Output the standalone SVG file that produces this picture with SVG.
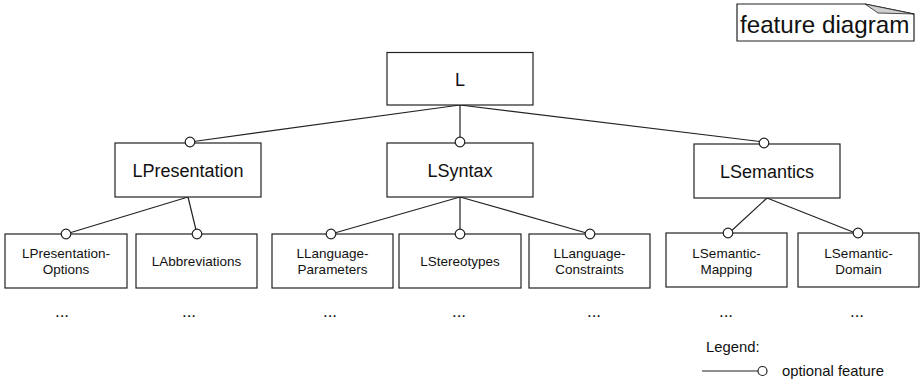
<svg xmlns="http://www.w3.org/2000/svg" width="921" height="383" viewBox="0 0 921 383">
<style>
.box{fill:#fff;stroke:#222;stroke-width:1.2}
.ln{stroke:#222;stroke-width:1.2;fill:none}
.opt{fill:#fff;stroke:#222;stroke-width:1.2}
.t1{font-family:"Liberation Sans",Arial,sans-serif;font-size:18px;fill:#111;text-anchor:middle}
.t2{font-family:"Liberation Sans",Arial,sans-serif;font-size:13.5px;fill:#111;text-anchor:middle}
.dots{font-family:"Liberation Sans",Arial,sans-serif;font-size:17px;fill:#111;text-anchor:middle}
.lg{font-family:"Liberation Sans",Arial,sans-serif;font-size:14.8px;fill:#111}
</style>
<rect width="921" height="383" fill="#fff"/>
<g id="frame-label">
<path d="M737,4 H865 L914,14 V41 H737 Z" fill="#fff" stroke="#222" stroke-width="1.2"/>
<polygon points="865,4 914,14 878,13" fill="#d0d0d0" stroke="#222" stroke-width="0.8"/>
<text x="740" y="33" font-family="Liberation Sans, Arial, sans-serif" font-size="24.2" fill="#111">feature diagram</text>
</g>
<g id="connectors">
<line class="ln" x1="460" y1="105" x2="190" y2="142"/>
<line class="ln" x1="460" y1="105" x2="460" y2="142"/>
<line class="ln" x1="460" y1="105" x2="764" y2="142"/>
<line class="ln" x1="188" y1="197" x2="66" y2="234"/>
<line class="ln" x1="188" y1="197" x2="197" y2="234"/>
<line class="ln" x1="460" y1="197" x2="331" y2="234"/>
<line class="ln" x1="460" y1="197" x2="460" y2="234"/>
<line class="ln" x1="460" y1="197" x2="590" y2="234"/>
<line class="ln" x1="767" y1="198" x2="728" y2="234"/>
<line class="ln" x1="767" y1="198" x2="858" y2="234"/>
</g>
<g id="L"><rect class="box" x="387" y="52.5" width="146" height="52.5"/><text class="t1" x="460" y="85.5">L</text></g>
<g id="LPresentation"><rect class="box" x="115" y="143" width="146" height="54"/><circle class="opt" cx="190" cy="142" r="4.8"/><text class="t1" x="188" y="176.5">LPresentation</text></g>
<g id="LSyntax"><rect class="box" x="387" y="143" width="146" height="54"/><circle class="opt" cx="460" cy="142" r="4.8"/><text class="t1" x="460" y="176.5">LSyntax</text></g>
<g id="LSemantics"><rect class="box" x="694" y="144" width="146" height="54"/><circle class="opt" cx="764" cy="143" r="4.8"/><text class="t1" x="767" y="177.5">LSemantics</text></g>
<g id="LPresentation-Options"><rect class="box" x="5" y="234" width="122" height="54"/><circle class="opt" cx="66" cy="234" r="4.8"/><text class="t2" x="66" y="257.5">LPresentation-</text><text class="t2" x="66" y="273.5">Options</text></g>
<g id="LAbbreviations"><rect class="box" x="136" y="234" width="121" height="54"/><circle class="opt" cx="197" cy="234" r="4.8"/><text class="t2" x="196.5" y="266">LAbbreviations</text></g>
<g id="LLanguage-Parameters"><rect class="box" x="272" y="234" width="121" height="54"/><circle class="opt" cx="331" cy="234" r="4.8"/><text class="t2" x="332.5" y="257.5">LLanguage-</text><text class="t2" x="332.5" y="273.5">Parameters</text></g>
<g id="LStereotypes"><rect class="box" x="399" y="234" width="122" height="54"/><circle class="opt" cx="460" cy="234" r="4.8"/><text class="t2" x="460" y="266">LStereotypes</text></g>
<g id="LLanguage-Constraints"><rect class="box" x="529" y="234" width="121" height="54"/><circle class="opt" cx="590" cy="234" r="4.8"/><text class="t2" x="589.5" y="257.5">LLanguage-</text><text class="t2" x="589.5" y="273.5">Constraints</text></g>
<g id="LSemantic-Mapping"><rect class="box" x="666" y="233" width="121" height="54"/><circle class="opt" cx="728" cy="233" r="4.8"/><text class="t2" x="726.5" y="257.5">LSemantic-</text><text class="t2" x="726.5" y="273.5">Mapping</text></g>
<g id="LSemantic-Domain"><rect class="box" x="798" y="233" width="121" height="54"/><circle class="opt" cx="858" cy="233" r="4.8"/><text class="t2" x="858.5" y="257.5">LSemantic-</text><text class="t2" x="858.5" y="273.5">Domain</text></g>
<g id="ellipses">
<text class="dots" x="62" y="317">...</text>
<text class="dots" x="189" y="317">...</text>
<text class="dots" x="330" y="317">...</text>
<text class="dots" x="459" y="317">...</text>
<text class="dots" x="594" y="317">...</text>
<text class="dots" x="726" y="317">...</text>
<text class="dots" x="857" y="317">...</text>
</g>
<g id="legend">
<text class="lg" x="706" y="352">Legend:</text>
<line class="ln" x1="702" y1="371" x2="758" y2="371"/>
<circle class="opt" cx="762.5" cy="371" r="4.5"/>
<text class="lg" x="782" y="376">optional feature</text>
</g>
</svg>
